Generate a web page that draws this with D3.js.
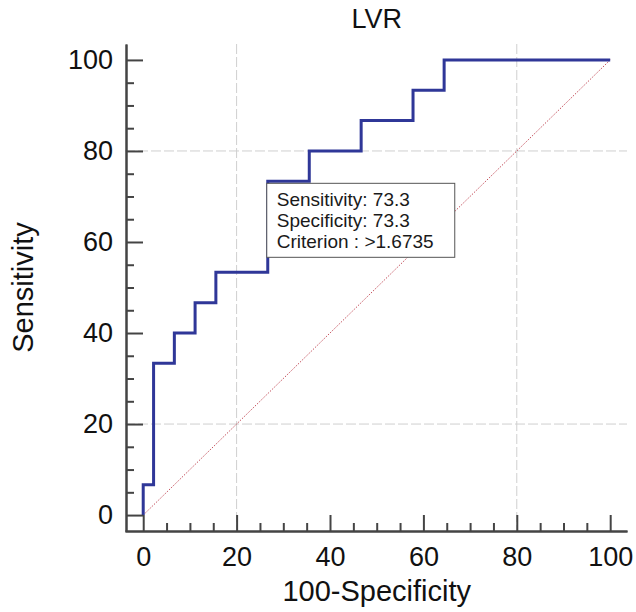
<!DOCTYPE html>
<html>
<head>
<meta charset="utf-8">
<script src="https://cdn.jsdelivr.net/npm/d3@7/dist/d3.min.js"></script>
<style>
  html, body { margin: 0; padding: 0; background: #ffffff; }
  svg { display: block; font-family: "Liberation Sans", Arial, sans-serif; }
</style>
</head>
<body>
<svg id="chart" width="636" height="612"></svg>
<script>
// ---- Data ----
const chartTitle = "LVR";
const xTitle = "100-Specificity";
const yTitle = "Sensitivity";
// ROC corner points (100-Specificity, Sensitivity)
const rocFpr  = [0, 0, 2.22, 6.67, 11.11, 15.56, 26.67, 35.56, 46.67, 57.78, 64.44, 100];
const rocSens = [0, 6.67, 33.33, 40, 46.67, 53.33, 73.33, 80, 86.67, 93.33, 100, 100];
const majorTicks = [0, 20, 40, 60, 80, 100];
const minorTicks = [5, 10, 15, 25, 30, 35, 45, 50, 55, 65, 70, 75, 85, 90, 95];
const gridValues = [20, 80];
const criterion = { fpr: 26.67, sens: 73.33 };
const annotationLines = ["Sensitivity: 73.3", "Specificity: 73.3", "Criterion : >1.6735"];

// ---- Layout ----
const svg = d3.select("#chart");
const x = d3.scaleLinear().domain([-3.9, 103.6]).range([125, 627]);
const y = d3.scaleLinear().domain([-3.5, 103.5]).range([531, 44]);
const axisColor = "#444444";
const textColor = "#111111";

// Grid lines
const grid = svg.append("g");
grid.selectAll("line.vg").data(gridValues).join("line")
  .attr("x1", d => x(d)).attr("x2", d => x(d))
  .attr("y1", y.range()[1]).attr("y2", y.range()[0])
  .attr("stroke", "#cfcfcf").attr("stroke-width", 1).attr("stroke-dasharray", "10,3");
grid.selectAll("line.hg").data(gridValues).join("line")
  .attr("y1", d => y(d)).attr("y2", d => y(d))
  .attr("x1", x.range()[0]).attr("x2", x.range()[1])
  .attr("stroke", "#cfcfcf").attr("stroke-width", 1).attr("stroke-dasharray", "10,3");

// Diagonal reference line
svg.append("line")
  .attr("x1", x(0)).attr("y1", y(0)).attr("x2", x(100)).attr("y2", y(100))
  .attr("stroke", "#c4505c").attr("stroke-width", 1).attr("stroke-dasharray", "1.5,1.5");

// ROC curve
const pts = rocFpr.map((f, i) => [f, rocSens[i]]);
svg.append("path")
  .datum(pts)
  .attr("fill", "none")
  .attr("stroke", "#2f3798")
  .attr("stroke-width", 3)
  .attr("d", d3.line().x(d => x(d[0])).y(d => y(d[1])).curve(d3.curveStepAfter));

// Axes
function styleAxis(g) {
  g.selectAll("path.domain").attr("stroke", axisColor).attr("stroke-width", 2);
  g.selectAll(".tick line").attr("stroke", axisColor).attr("stroke-width", 2);
  g.selectAll("text").attr("fill", textColor).style("font-size", "27px")
    .style("font-family", "'Liberation Sans', Arial, sans-serif");
}
const xAxisY = y.range()[0];
const yAxisX = 126;

svg.append("g").attr("transform", `translate(0,${xAxisY})`)
  .call(d3.axisBottom(x).tickValues(minorTicks).tickSize(-8).tickSizeOuter(0).tickFormat(""))
  .call(styleAxis);
svg.append("g").attr("transform", `translate(0,${xAxisY})`)
  .call(d3.axisBottom(x).tickValues(majorTicks).tickSize(-16).tickSizeOuter(0).tickPadding(16).tickFormat(d3.format("d")))
  .call(styleAxis);

svg.append("g").attr("transform", `translate(${yAxisX},0)`)
  .call(d3.axisLeft(y).tickValues(minorTicks).tickSize(-8).tickSizeOuter(0).tickFormat(""))
  .call(styleAxis);
svg.append("g").attr("transform", `translate(${yAxisX},0)`)
  .call(d3.axisLeft(y).tickValues(majorTicks).tickSize(-17).tickSizeOuter(0).tickPadding(13).tickFormat(d3.format("d")))
  .call(styleAxis);

// Titles
svg.append("text")
  .attr("x", (x(0) + x(100)) / 2).attr("y", 28)
  .attr("text-anchor", "middle").attr("fill", textColor)
  .style("font-size", "27px").text(chartTitle);
svg.append("text")
  .attr("x", (x(0) + x(100)) / 2).attr("y", 601)
  .attr("text-anchor", "middle").attr("fill", textColor)
  .style("font-size", "29px").text(xTitle);
svg.append("text")
  .attr("transform", `translate(33,${(y(0) + y(100)) / 2}) rotate(-90)`)
  .attr("text-anchor", "middle").attr("fill", textColor)
  .style("font-size", "29px").text(yTitle);

// Annotation box
const bx = x(criterion.fpr) - 1;
const by = y(criterion.sens) + 2;
const box = svg.append("g").attr("transform", `translate(${bx},${by})`);
box.append("rect")
  .attr("x", 0).attr("y", 0).attr("width", 188).attr("height", 74)
  .attr("fill", "#ffffff").attr("stroke", "#555555").attr("stroke-width", 1);
box.selectAll("text").data(annotationLines).join("text")
  .attr("x", 10).attr("y", (d, i) => 23 + i * 20.7)
  .attr("fill", "#1a1a1a").style("font-size", "19px")
  .text(d => d);
</script>
</body>
</html>
